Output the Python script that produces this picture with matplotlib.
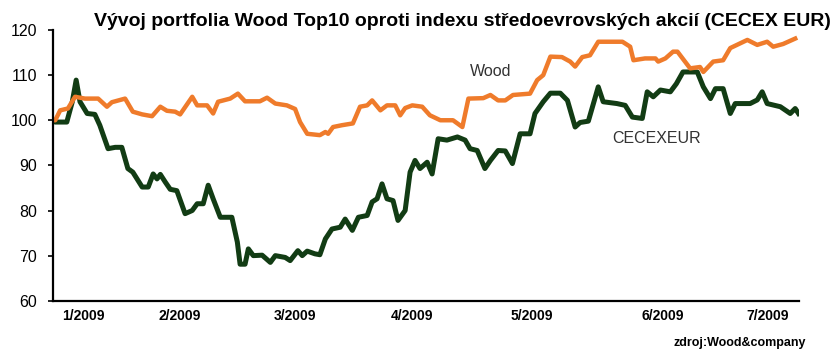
import matplotlib
matplotlib.use("Agg")
import matplotlib.pyplot as plt

plt.rcParams["font.family"] = ["Liberation Sans", "DejaVu Sans"]

# trading-day index (0 = start of January 2009) and index values
cecex_day = [0, 0.4, 2.5, 3.5, 4.2, 4.9, 6.2, 7.6, 8.5, 10, 11.3, 12.5, 13.6, 14.5,
             16.2, 17.3, 18.2, 18.9, 19.5, 20.4, 21.3, 22.5, 24, 25.3, 26.2, 27.3,
             28.2, 29.1, 30.4, 32.5, 33.5, 34, 34.9, 35.5, 36.4, 38, 39.5, 40.4,
             42.2, 43.1, 44.5, 45.3, 46.2, 47.6, 48.5, 49.5, 50.7, 52.2, 53.1, 54.4,
             55.5, 57.1, 58, 58.9, 59.8, 60.7, 61.8, 62.7, 64, 64.9, 65.8, 66.7, 68,
             68.9, 70, 71.6, 73.5, 74.9, 75.8, 77.1, 78.5, 79.5, 80.9, 82.2, 83.5,
             84.9, 86.7, 87.6, 89.1, 90.4, 92.2, 93.5, 94.9, 95.8, 97.3, 99.1, 100,
             102.5, 104, 105.3, 107.1, 108, 109.1, 110.4, 112.2, 113.3, 114.5, 117.1,
             118.2, 119.5, 120.4, 121.8, 123.1, 124, 126.7, 128, 128.9, 129.8, 132.2,
             134, 134.9, 135.5]
cecex_val = [100, 99.6, 99.6, 104.1, 108.9, 104.1, 101.5, 101.3, 98.9, 93.7, 94, 94,
             89.3, 88.5, 85.2, 85.2, 88.1, 87, 88, 86.3, 84.7, 84.4, 79.3, 80, 81.5,
             81.5, 85.6, 82.6, 78.5, 78.5, 73, 68.1, 68.1, 71.5, 70, 70.1, 68.5, 70,
             69.6, 68.9, 71.1, 70, 71, 70.4, 70.2, 73.7, 75.9, 76.3, 78.1, 75.6, 78.5,
             78.9, 81.9, 82.6, 85.9, 82.6, 82.2, 77.8, 80, 88.5, 91.1, 89.3, 90.7,
             88.1, 95.9, 95.6, 96.3, 95.6, 93.7, 93.3, 89.3, 91.1, 93.3, 93.2, 90.4,
             97, 97, 101.5, 104.1, 106, 106, 104.4, 98.5, 99.5, 99.8, 107.4, 104.1,
             103.7, 103.3, 100.7, 100.4, 106.3, 105.2, 106.7, 106.3, 108.1, 110.7,
             110.7, 107.4, 104.8, 107, 107, 101.5, 103.7, 103.7, 104.5, 106.3, 103.7,
             103, 101.5, 102.6, 101.5]

wood_day = [0, 0.4, 1.3, 2.7, 4, 5.8, 8.2, 9.8, 10.7, 13.1, 14.5, 16.2, 18, 19.5,
            20.7, 22.2, 23.1, 25.3, 26.2, 28, 29.1, 30, 32.2, 33.6, 34.9, 37.6, 38.9,
            40.4, 42.5, 44, 44.9, 46.2, 48.5, 49.5, 50, 50.9, 52.5, 54.5, 55.8, 57.1,
            58, 59.5, 60.7, 62.2, 63.1, 64, 65.3, 67.1, 68.5, 70.4, 72.7, 74.4, 75.5,
            78.2, 79.5, 80.9, 82.2, 83.6, 86.7, 88, 89.1, 90.4, 92.5, 94, 94.9, 96.2,
            97.6, 99.1, 103.5, 104.9, 105.5, 107.6, 109.5, 110, 111.3, 112.7, 113.5,
            115.8, 117.6, 118.2, 120, 121.8, 123.1, 126.2, 128, 129.8, 130.9, 132.7,
            134.9]
wood_val = [100, 100, 102.2, 102.6, 105.2, 104.8, 104.8, 103, 104, 104.8, 101.9,
            101.3, 100.9, 103, 102.1, 101.9, 101.3, 105.2, 103.3, 103.3, 101.5, 104.1,
            104.8, 105.9, 104.2, 104.2, 105, 103.7, 103.3, 102.5, 99.6, 97, 96.7, 97.4,
            97, 98.5, 98.9, 99.3, 103, 103.3, 104.4, 102.2, 103.3, 103.3, 101.1, 102.7,
            103.3, 103, 101.1, 100, 100, 98.5, 104.8, 104.9, 105.6, 104.4, 104.4,
            105.6, 105.9, 108.9, 110, 114.1, 114, 113, 111.9, 114, 114.4, 117.4, 117.4,
            116.3, 113.3, 113.7, 113.7, 113, 113.7, 115.2, 115.2, 111.5, 111.8, 110.7,
            113, 113.3, 116, 117.8, 116.7, 117.4, 116.3, 116.9, 118.1]

month_day = [5.6, 23.1, 44, 65.3, 87.1, 110.9, 129.8]
month_labels = ["1/2009", "2/2009", "3/2009", "4/2009", "5/2009", "6/2009", "7/2009"]
y_ticks = [60, 70, 80, 90, 100, 110, 120]

ORANGE = "#EF7B2B"
GREEN = "#123C14"

fig = plt.figure(figsize=(8.34, 3.53), dpi=100)
ax = fig.add_axes([0.0636, 0.148, 0.8945, 0.767])

ax.plot(cecex_day, cecex_val, color=GREEN, lw=3.6, solid_joinstyle="round", zorder=2)
ax.plot(wood_day, wood_val, color=ORANGE, lw=3.2, solid_joinstyle="round", zorder=3)

ax.set_xlim(0, 135.6)
ax.set_ylim(60, 120)
ax.set_yticks(y_ticks)
ax.set_xticks(month_day)
ax.set_xticklabels(month_labels, fontweight="bold", fontsize=10)
ax.tick_params(axis="y", length=3.5, width=1.2, pad=8, labelsize=11.5)
ax.tick_params(axis="x", length=0, pad=6)

for side in ["top", "right"]:
    ax.spines[side].set_visible(False)
for side in ["left", "bottom"]:
    ax.spines[side].set_linewidth(1.6)
    ax.spines[side].set_color("black")
ax.spines["left"].set_zorder(5)

ax.text(75.8, 110.7, "Wood", fontsize=11.5, color="#333333", ha="left", va="center")
ax.text(101.6, 96, "CECEXEUR", fontsize=11.5, color="#333333", ha="left", va="center")

fig.text(0.555, 0.938, "Vývoj portfolia Wood Top10 oproti indexu středoevrovských akcií (CECEX EUR)",
         ha="center", va="center", fontsize=14, fontweight="bold")
fig.text(0.966, 0.028, "zdroj:Wood&company", ha="right", va="center",
         fontsize=9, fontweight="bold")

fig.savefig("out.png", dpi=100)
